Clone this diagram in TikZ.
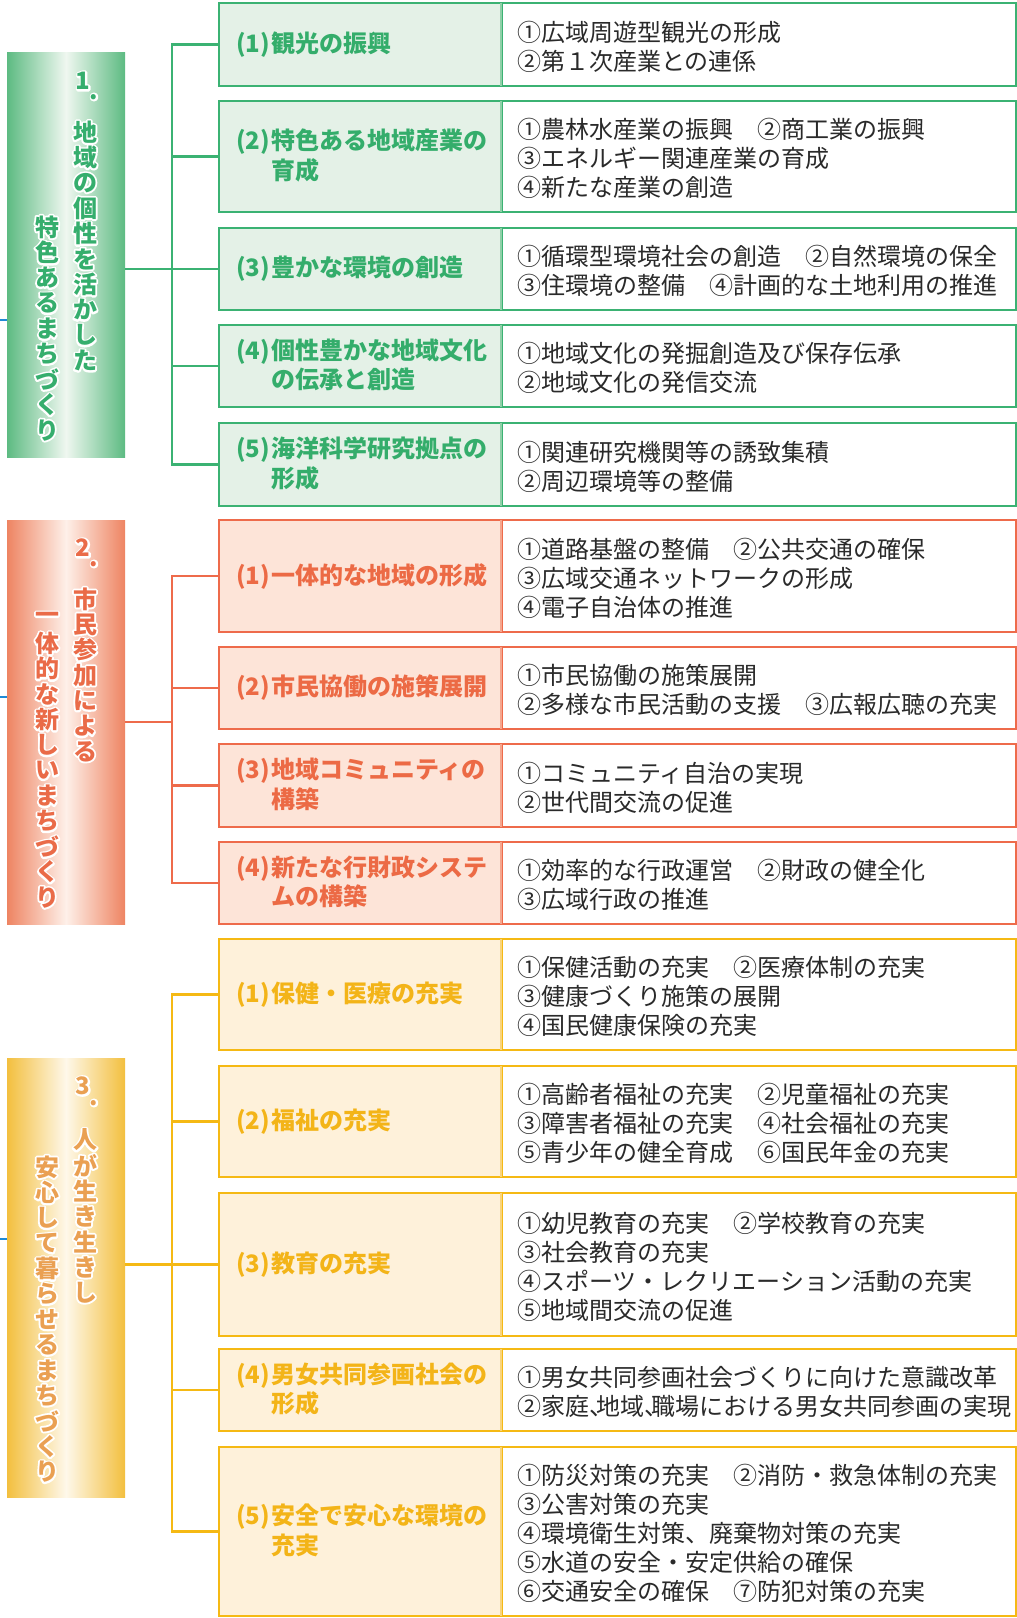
\documentclass[tikz,border=0pt]{standalone}
\usepackage{fontspec}
\setmainfont{Noto Sans CJK JP}
\definecolor{grnline}{HTML}{3BB273}
\definecolor{grnfill}{HTML}{E4F1E7}
\definecolor{grndiv}{HTML}{8FD0A8}
\definecolor{grntext}{HTML}{34AD6B}
\definecolor{grnbar}{HTML}{5DBB82}
\definecolor{grnmid}{HTML}{EFF7F0}
\definecolor{grnvert}{HTML}{35AE6D}
\definecolor{orgline}{HTML}{EE6B4B}
\definecolor{orgfill}{HTML}{FDE4D8}
\definecolor{orgdiv}{HTML}{F5A68E}
\definecolor{orgtext}{HTML}{EC6A45}
\definecolor{orgbar}{HTML}{EE8462}
\definecolor{orgmid}{HTML}{FEF0E9}
\definecolor{orgvert}{HTML}{EA6B48}
\definecolor{ylwline}{HTML}{F5B914}
\definecolor{ylwfill}{HTML}{FEF1DA}
\definecolor{ylwdiv}{HTML}{F9D47C}
\definecolor{ylwtext}{HTML}{F3B418}
\definecolor{ylwbar}{HTML}{F3BF3E}
\definecolor{ylwmid}{HTML}{FEF8EA}
\definecolor{ylwvert}{HTML}{EAA052}
\definecolor{linkblue}{HTML}{1E8AD6}
\definecolor{itemgray}{HTML}{2A2A2A}
\newcommand\lbl[2]{\makebox[17.5pt][l]{#1}\begin{tabular}[t]{@{}l@{}}#2\end{tabular}}
\newcommand\halo[1]{\leavevmode\rlap{\color{white}\special{pdf:literal direct 1 Tr 1.8 w 1 J 1 j}#1\special{pdf:literal direct 0 Tr}}#1}
\tikzset{>=stealth,
  bar/.style={minimum width=59pt, inner sep=0pt},
  boxframe/.style={draw=#1, line width=1.25pt, inner sep=0pt},
  leftbox/.style={boxframe=#1line, fill=#1fill, minimum width=141.5pt},
  rightbox/.style={boxframe=#1line, fill=white, minimum width=257pt},
  divline/.style={draw=#1div, line width=1pt, shorten <=0.6pt, shorten >=0.6pt},
  headtext/.style={anchor=west, inner sep=0pt, font=\fontsize{12}{14.6}\selectfont\bfseries, text=#1text},
  itemtext/.style={anchor=west, align=left, inner sep=0pt, font=\fontsize{12}{14.5}\selectfont, text=itemgray},
  vchar/.style={inner sep=0pt, font=\fontsize{12}{12}\selectfont\bfseries, text=#1vert},
  treeline/.style={draw=#1line, line width=1.25pt},
  blueline/.style={draw=linkblue, line width=1pt}
}

\begin{document}
\begin{tikzpicture}[x=0.5pt, y=-0.5pt]
    \useasboundingbox (0,0) rectangle (1017,1618);
    \node[bar, left color=grnbar, right color=grnbar, middle color=grnmid, minimum height=202.5pt] (bar1) at (66,254.5) {};
    \node[bar, left color=orgbar, right color=orgbar, middle color=orgmid, minimum height=202pt] (bar2) at (66,722) {};
    \node[bar, left color=ylwbar, right color=ylwbar, middle color=ylwmid, minimum height=219.5pt] (bar3) at (66,1277.5) {};
    \coordinate (bl1) at (0,320);
    \coordinate (bl2) at (0,697);
    \coordinate (bl3) at (0,1239);
    \draw[blueline] (bl1) -- (bl1 -| bar1.west);
    \draw[blueline] (bl2) -- (bl2 -| bar2.west);
    \draw[blueline] (bl3) -- (bl3 -| bar3.west);

    \node[vchar=grn] (gn) at (83,81) {\halo{1}};
    \node[vchar=grn] (gp) at (94,97) {\halo{.}};
    \foreach \c [count=\k] in {地,域,の,個,性,を,活,か,し,た}
        \node[vchar=grn] (ga\k) at (85,{132+25.4*(\k-1)}) {\halo{\c}};
    \foreach \c [count=\k] in {特,色,あ,る,ま,ち,づ,く,り}
        \node[vchar=grn] (gb\k) at (47,{227+25.4*(\k-1)}) {\halo{\c}};

    \node[vchar=org] (on) at (83,548) {\halo{2}};
    \node[vchar=org] (op) at (94,564) {\halo{.}};
    \foreach \c [count=\k] in {市,民,参,加,に,よ,る}
        \node[vchar=org] (oa\k) at (85,{599+25.4*(\k-1)}) {\halo{\c}};
    \foreach \c [count=\k] in {一,体,的,な,新,し,い,ま,ち,づ,く,り}
        \node[vchar=org] (ob\k) at (47,{618+25.4*(\k-1)}) {\halo{\c}};

    \node[vchar=ylw] (yn) at (83,1086) {\halo{3}};
    \node[vchar=ylw] (yp) at (94,1103) {\halo{.}};
    \foreach \c [count=\k] in {人,が,生,き,生,き,し}
        \node[vchar=ylw] (ya\k) at (85,{1140+25.4*(\k-1)}) {\halo{\c}};
    \foreach \c [count=\k] in {安,心,し,て,暮,ら,せ,る,ま,ち,づ,く,り}
        \node[vchar=ylw] (yb\k) at (47,{1167+25.4*(\k-1)}) {\halo{\c}};

    \foreach \t/\b/\h/\items [count=\i] in {
        3/86/{観光の振興}/{①広域周遊型観光の形成\\②第１次産業との連係},
        101/212/{特色ある地域産業の\\育成}/{①農林水産業の振興　②商工業の振興\\③エネルギー関連産業の育成\\④新たな産業の創造},
        228/310/{豊かな環境の創造}/{①循環型環境社会の創造　②自然環境の保全\\③住環境の整備　④計画的な土地利用の推進},
        325/407/{個性豊かな地域文化\\の伝承と創造}/{①地域文化の発掘創造及び保存伝承\\②地域文化の発信交流},
        423/506/{海洋科学研究拠点の\\形成}/{①関連研究機関等の誘致集積\\②周辺環境等の整備}}
    {
        \node[leftbox=grn, minimum height={(\b-\t)*0.5pt}] (g\i) at (360.5,{(\t+\b)/2}) {};
        \node[rightbox=grn, minimum height={(\b-\t)*0.5pt}] (gi\i) at (759,{(\t+\b)/2}) {};
        \draw[divline=grn] (gi\i.north west) -- (gi\i.south west);
        \node[headtext=grn] (gh\i) at ([xshift=9pt, yshift=-1pt]g\i.west) {\lbl{(\i)}{\h}};
        \node[itemtext] (gt\i) at ([xshift=8pt, yshift=-1pt]gi\i.west) {\items};
    }

    \foreach \t/\b/\h/\items [count=\i] in {
        520/632/{一体的な地域の形成}/{①道路基盤の整備　②公共交通の確保\\③広域交通ネットワークの形成\\④電子自治体の推進},
        647/729/{市民協働の施策展開}/{①市民協働の施策展開\\②多様な市民活動の支援　③広報広聴の充実},
        744/827/{地域コミュニティの\\構築}/{①コミュニティ自治の実現\\②世代間交流の促進},
        842/924/{新たな行財政システ\\ムの構築}/{①効率的な行政運営　②財政の健全化\\③広域行政の推進}}
    {
        \node[leftbox=org, minimum height={(\b-\t)*0.5pt}] (o\i) at (360.5,{(\t+\b)/2}) {};
        \node[rightbox=org, minimum height={(\b-\t)*0.5pt}] (oi\i) at (759,{(\t+\b)/2}) {};
        \draw[divline=org] (oi\i.north west) -- (oi\i.south west);
        \node[headtext=org] (oh\i) at ([xshift=9pt, yshift=-1pt]o\i.west) {\lbl{(\i)}{\h}};
        \node[itemtext] (ot\i) at ([xshift=8pt, yshift=-1pt]oi\i.west) {\items};
    }

    \foreach \t/\b/\h/\items [count=\i] in {
        939/1050/{保健・医療の充実}/{①保健活動の充実　②医療体制の充実\\③健康づくり施策の展開\\④国民健康保険の充実},
        1066/1177/{福祉の充実}/{①高齢者福祉の充実　②児童福祉の充実\\③障害者福祉の充実　④社会福祉の充実\\⑤青少年の健全育成　⑥国民年金の充実},
        1193/1336/{教育の充実}/{①幼児教育の充実　②学校教育の充実\\③社会教育の充実\\④スポーツ・レクリエーション活動の充実\\⑤地域間交流の促進},
        1349/1431/{男女共同参画社会の\\形成}/{①男女共同参画社会づくりに向けた意識改革\\②家庭、\kern-.7em 地域、\kern-.7em 職場における男女共同参画の実現},
        1447/1616/{安全で安心な環境の\\充実}/{①防災対策の充実　②消防・救急体制の充実\\③公害対策の充実\\④環境衛生対策、廃棄物対策の充実\\⑤水道の安全・安定供給の確保\\⑥交通安全の確保　⑦防犯対策の充実}}
    {
        \node[leftbox=ylw, minimum height={(\b-\t)*0.5pt}] (y\i) at (360.5,{(\t+\b)/2}) {};
        \node[rightbox=ylw, minimum height={(\b-\t)*0.5pt}] (yi\i) at (759,{(\t+\b)/2}) {};
        \draw[divline=ylw] (yi\i.north west) -- (yi\i.south west);
        \node[headtext=ylw] (yh\i) at ([xshift=9pt, yshift=-1pt]y\i.west) {\lbl{(\i)}{\h}};
        \node[itemtext] (yt\i) at ([xshift=8pt, yshift=-1pt]yi\i.west) {\items};
    }

    \coordinate (tx) at (172,0);
    \draw[treeline=grn] (g1.west) -- (g1.west -| tx) -- (g5.west -| tx) -- (g5.west);
    \foreach \i in {2,3,4} \draw[treeline=grn] (g\i.west) -- (g\i.west -| tx);
    \draw[treeline=grn] (bar1.east |- g3.west) -- (g3.west -| tx);
    \draw[treeline=org] (o1.west) -- (o1.west -| tx) -- (o4.west -| tx) -- (o4.west);
    \foreach \i in {2,3} \draw[treeline=org] (o\i.west) -- (o\i.west -| tx);
    \draw[treeline=org] (bar2.east) -- (bar2.east -| tx);
    \draw[treeline=ylw] (y1.west) -- (y1.west -| tx) -- (y5.west -| tx) -- (y5.west);
    \foreach \i in {2,3,4} \draw[treeline=ylw] (y\i.west) -- (y\i.west -| tx);
    \draw[treeline=ylw] (bar3.east |- y3.west) -- (y3.west -| tx);
\end{tikzpicture}
\end{document}
